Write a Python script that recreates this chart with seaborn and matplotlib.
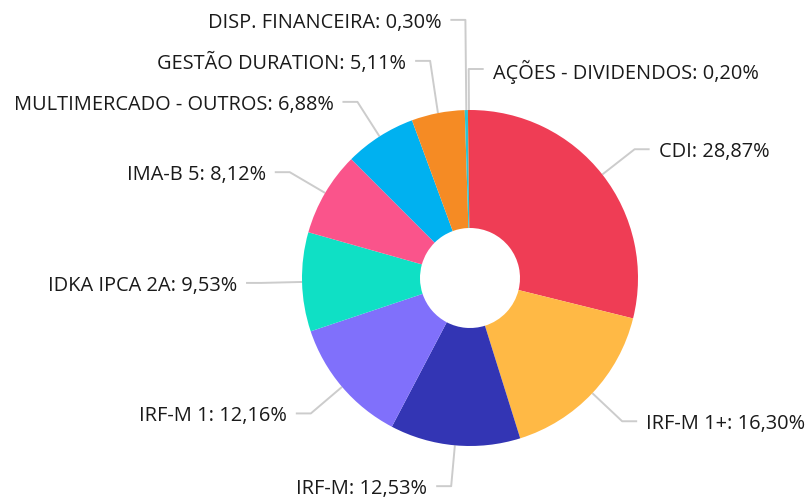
import numpy as np
import matplotlib
matplotlib.use('Agg')
import matplotlib.pyplot as plt
import seaborn as sns

# allocation data (clockwise from 12 o'clock)
categories = ['CDI', 'IRF-M 1+', 'IRF-M', 'IRF-M 1', 'IDKA IPCA 2A', 'IMA-B 5',
              'MULTIMERCADO - OUTROS', 'GESTÃO DURATION', 'DISP. FINANCEIRA',
              'AÇÕES - DIVIDENDOS']
shares = [28.87, 16.30, 12.53, 12.16, 9.53, 8.12, 6.88, 5.11, 0.30, 0.20]
slice_colors = ['#EF3D55', '#FFB945', '#3335B4', '#8070FB', '#0FE0C5', '#FA548B',
                '#00B1F0', '#F58B24', '#2CC4D3', '#EE4B2B']

sns.set_theme(style='white')
plt.rcParams['font.family'] = ['Open Sans', 'DejaVu Sans']

W, H = 808, 499
fig = plt.figure(figsize=(W / 100, H / 100), dpi=100)
ax = fig.add_axes([0, 0, 1, 1])

cx, cy = 470, 221      # pixel-based data coords, y up
R, hole = 168, 50

ax.pie(shares, colors=slice_colors, startangle=90, counterclock=False,
       radius=R, center=(cx, cy), wedgeprops=dict(width=R - hole, linewidth=0))
ax.set_xlim(0, W)
ax.set_ylim(0, H)
ax.set_aspect('equal')
ax.axis('off')

# label layout: elbow connectors, labels pushed apart vertically per side
r_elbow = 209
gap = 41
cum = np.cumsum([0] + shares[:-1])
mids = np.deg2rad(90 - 360 * (cum + np.array(shares) / 2) / 100)

items = []
for i, a in enumerate(mids):
    side = 'right' if np.cos(a) > -0.01 else 'left'
    items.append(dict(i=i, a=a, side=side,
                      ex=cx + r_elbow * np.cos(a), ey=cy + r_elbow * np.sin(a)))

for side in ['left', 'right']:
    group = sorted([it for it in items if it['side'] == side], key=lambda d: d['ey'])
    for k in range(1, len(group)):
        group[k]['ey'] = max(group[k]['ey'], group[k - 1]['ey'] + gap)

for it in items:
    i, a = it['i'], it['a']
    sx, sy = cx + R * np.cos(a), cy + R * np.sin(a)
    sgn = 1 if it['side'] == 'right' else -1
    xs = [sx, it['ex'], it['ex'] + sgn * 15]
    ys = [sy, it['ey'], it['ey']]
    ax.plot(xs, ys, color='#cccccc', lw=1.4, solid_capstyle='butt', zorder=0)
    pct = f"{shares[i]:.2f}".replace('.', ',')
    ax.text(it['ex'] + sgn * 24, it['ey'] - 3, f"{categories[i]}: {pct}%",
            fontsize=14.4, color='#1a1a1a',
            ha='left' if sgn > 0 else 'right', va='center')

fig.savefig('out.png', dpi=100, facecolor='white')
